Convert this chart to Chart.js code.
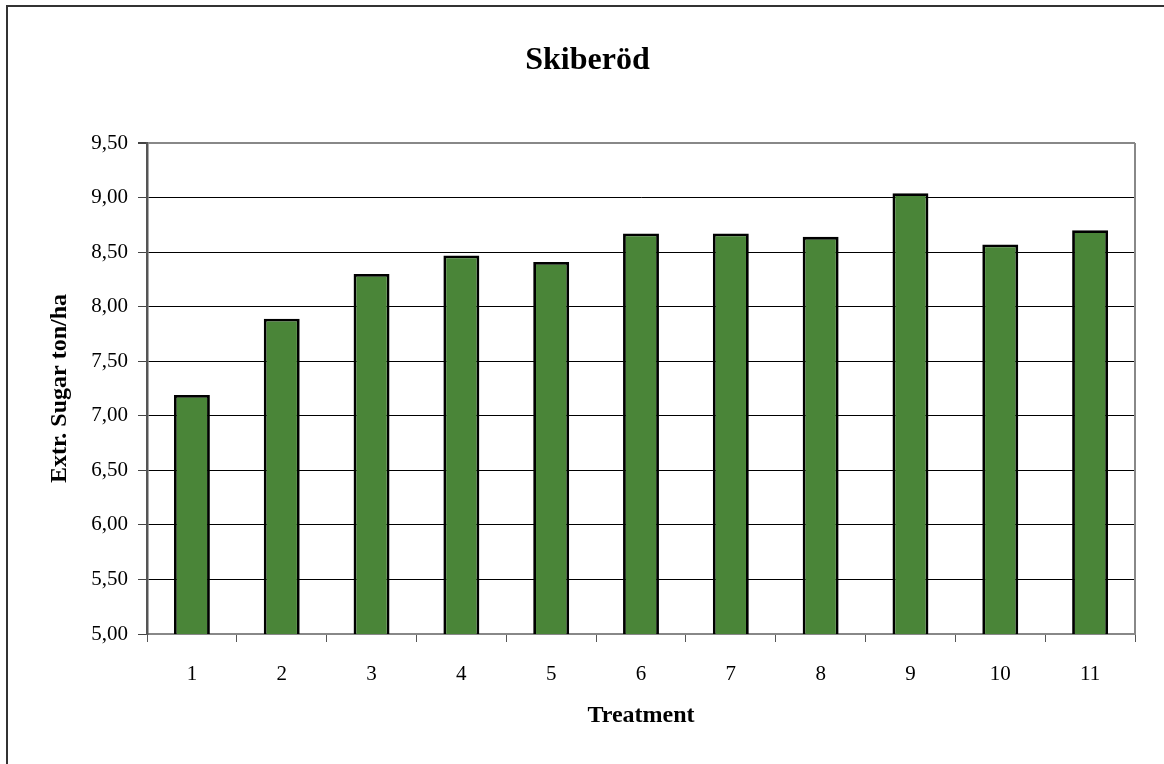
<!DOCTYPE html>
<html>
<head>
<meta charset="utf-8">
<script src="https://cdn.jsdelivr.net/npm/chart.js@4.4.1/dist/chart.umd.min.js"></script>
<style>
  html, body { margin: 0; padding: 0; background: #fff; }
  canvas { display: block; }
</style>
</head>
<body>
<canvas id="myChart" width="1164" height="764"></canvas>
<script>
// valores
const treatments = ['1', '2', '3', '4', '5', '6', '7', '8', '9', '10', '11'];
const sugarValues = [7.19, 7.89, 8.30, 8.47, 8.41, 8.67, 8.67, 8.64, 9.04, 8.57, 8.70];
const yTicks = [5.00, 5.50, 6.00, 6.50, 7.00, 7.50, 8.00, 8.50, 9.00, 9.50];

const serif = '"Liberation Serif", "Times New Roman", serif';

// moldura externa + borda direita da area do grafico
const bordas = {
  id: 'bordas',
  beforeDraw(chart) {
    const c = chart.ctx;
    c.save();
    c.strokeStyle = '#333';
    c.lineWidth = 2;
    c.beginPath();
    c.moveTo(7, 764);
    c.lineTo(7, 6);
    c.lineTo(1164, 6);
    c.stroke();
    c.restore();
  },
  afterDraw(chart) {
    const a = chart.chartArea;
    const c = chart.ctx;
    c.save();
    c.strokeStyle = '#888';
    c.lineWidth = 2;
    c.beginPath();
    c.moveTo(a.right, a.top);
    c.lineTo(a.right, a.bottom);
    c.stroke();
    c.restore();
  }
};

function preencherGrafico(label, values) {
  const ctx = document.getElementById('myChart');
  new Chart(ctx, {
    type: 'bar',
    data: {
      labels: label,
      datasets: [{
        label: 'Extr. Sugar ton/ha',
        data: values,
        backgroundColor: '#4a8538',
        borderColor: '#000',
        borderWidth: 2.8,
        borderSkipped: 'bottom',
        barPercentage: 0.4,
        categoryPercentage: 1.0
      }]
    },
    options: {
      responsive: false,
      animation: false,
      devicePixelRatio: 1,
      layout: { padding: { left: 40, right: 29, top: 0, bottom: 0 } },
      plugins: {
        legend: { display: false },
        tooltip: { enabled: false },
        title: {
          display: true,
          text: 'Skiberöd',
          color: '#000',
          font: { family: serif, size: 32, weight: 'bold' },
          padding: { top: 42, bottom: 62.6 }
        }
      },
      scales: {
        x: {
          grid: {
            offset: true,
            drawOnChartArea: false,
            tickLength: 8,
            tickColor: '#555'
          },
          border: { color: '#888', width: 2 },
          ticks: {
            color: '#000',
            font: { family: serif, size: 21 },
            padding: 20
          },
          title: {
            display: true,
            text: 'Treatment',
            color: '#000',
            font: { family: serif, size: 24, weight: 'bold' },
            padding: { top: 0, bottom: 34 }
          },
          afterFit(scale) { scale.height = 130; }
        },
        y: {
          min: 5,
          max: 9.5,
          afterBuildTicks(scale) {
            scale.ticks = yTicks.map(v => ({ value: v }));
          },
          grid: {
            color: (c) => (c.tick && c.tick.value === 9.5) ? '#888' : '#000',
            lineWidth: (c) => (c.tick && c.tick.value === 9.5) ? 2 : 1,
            tickLength: 9,
            tickColor: '#444'
          },
          border: { color: '#555', width: 2.5 },
          ticks: {
            color: '#000',
            font: { family: serif, size: 21 },
            padding: 10,
            callback: (v) => Number(v).toFixed(2).replace('.', ',')
          },
          title: {
            display: true,
            text: 'Extr. Sugar ton/ha',
            color: '#000',
            font: { family: serif, size: 24, weight: 'bold' },
            padding: { top: 5, bottom: 0 }
          },
          afterFit(scale) { scale.width = 107; }
        }
      }
    },
    plugins: [bordas]
  });
}

preencherGrafico(treatments, sugarValues);
</script>
</body>
</html>
